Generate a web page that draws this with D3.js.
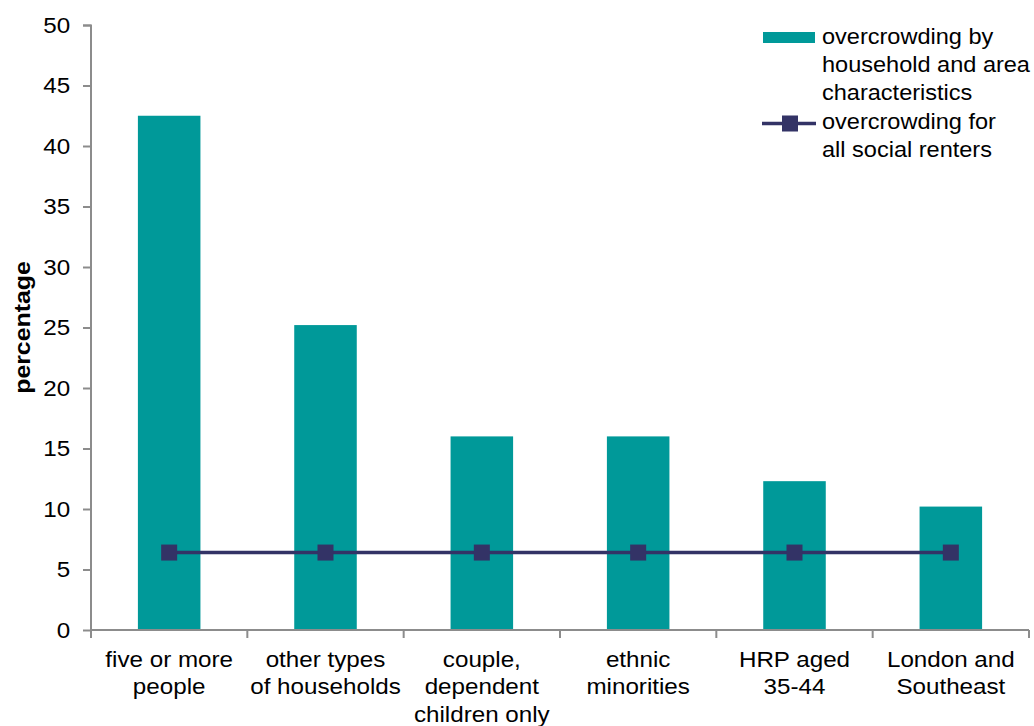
<!DOCTYPE html>
<html>
<head>
<meta charset="utf-8">
<script src="https://cdn.jsdelivr.net/npm/d3@7"></script>
<style>
  html, body { margin: 0; padding: 0; background: #fff; }
  svg { display: block; font-family: "Liberation Sans", Arial, sans-serif; }
</style>
</head>
<body>
<svg id="chart" width="1034" height="726"></svg>
<script>
// Overcrowding rates by household and area characteristics
const categories = [
  ["five or more", "people"],
  ["other types", "of households"],
  ["couple,", "dependent", "children only"],
  ["ethnic", "minorities"],
  ["HRP aged", "35-44"],
  ["London and", "Southeast"]
];
const barValues = [42.5, 25.2, 16.0, 16.0, 12.3, 10.2];
const lineValues = [6.4, 6.4, 6.4, 6.4, 6.4, 6.4];
const yTicks = [0, 5, 10, 15, 20, 25, 30, 35, 40, 45, 50];
const seriesNames = {
  bars: ["overcrowding by", "household and area", "characteristics"],
  line: ["overcrowding for", "all social renters"]
};

const barColor = "#009999";
const lineColor = "#333366";
const axisColor = "#8c8c8c";
const fontSize = 22;
const wide = 1.1;        // horizontal stretch of the label type
const legendWide = 1.07; // slightly narrower so the legend fits the right edge

const svg = d3.select("#chart");
const plot = { left: 91, right: 1029, top: 25, bottom: 630 };

const keys = categories.map((c, i) => i);
const x = d3.scaleBand()
  .domain(keys)
  .range([plot.left, plot.right])
  .paddingInner(0.6)
  .paddingOuter(0.3);
const xCat = d3.scaleBand().domain(keys).range([plot.left, plot.right]).padding(0);
const y = d3.scaleLinear().domain([0, 50]).range([plot.bottom, plot.top]);

// Bars
svg.append("g").selectAll("rect")
  .data(barValues)
  .join("rect")
  .attr("x", (d, i) => x(i))
  .attr("width", x.bandwidth())
  .attr("y", d => y(d))
  .attr("height", d => y(0) - y(d))
  .attr("fill", barColor);

// Y axis
const yAxis = d3.axisLeft(y).tickValues(yTicks).tickSize(8).tickPadding(11);
const gy = svg.append("g").attr("transform", `translate(${plot.left},0)`).call(yAxis);
gy.select(".domain").attr("stroke", axisColor).attr("stroke-width", 2)
  .attr("d", `M-8,${plot.top + 0.5}H0V${plot.bottom}`);
gy.selectAll(".tick line").attr("stroke", axisColor).attr("stroke-width", 2);
gy.selectAll(".tick text").attr("fill", "#000").attr("font-size", fontSize)
  .attr("font-family", "Liberation Sans, Arial, sans-serif")
  .attr("transform", `scale(${wide},1)`);

// X axis with tick marks on category boundaries
const gx = svg.append("g").attr("transform", `translate(0,${plot.bottom})`);
gx.append("line")
  .attr("x1", plot.left).attr("x2", plot.right)
  .attr("stroke", axisColor).attr("stroke-width", 2);
const boundaries = keys.map(k => xCat(k)).concat([plot.right]);
gx.selectAll("line.tk").data(boundaries).join("line")
  .attr("class", "tk")
  .attr("x1", d => d).attr("x2", d => d)
  .attr("y1", 0).attr("y2", 8)
  .attr("stroke", axisColor).attr("stroke-width", 2);

// Multi-line text block anchored at (px, py), stretched horizontally
function block(parent, px, py, lines, anchor, lineGap, sx) {
  const t = parent.append("g")
    .attr("transform", `translate(${px},${py}) scale(${sx},1)`)
    .append("text")
    .attr("text-anchor", anchor)
    .attr("font-size", fontSize).attr("fill", "#000");
  lines.forEach((ln, j) => {
    t.append("tspan").attr("x", 0).attr("y", j * lineGap).text(ln);
  });
  return t;
}

// Category labels
const labels = svg.append("g");
categories.forEach((lines, i) => {
  const cx = xCat(i) + xCat.bandwidth() / 2;
  block(labels, cx, 667, lines, "middle", 27.5, wide);
});

// Line series with square markers
const lineGen = d3.line()
  .x((d, i) => x(i) + x.bandwidth() / 2)
  .y(d => y(d));
svg.append("path")
  .datum(lineValues)
  .attr("d", lineGen)
  .attr("fill", "none")
  .attr("stroke", lineColor)
  .attr("stroke-width", 3.5);
const ms = 16;
svg.append("g").selectAll("rect")
  .data(lineValues)
  .join("rect")
  .attr("x", (d, i) => x(i) + x.bandwidth() / 2 - ms / 2)
  .attr("y", d => y(d) - ms / 2)
  .attr("width", ms).attr("height", ms)
  .attr("fill", lineColor);

// Y axis title
svg.append("g")
  .attr("transform", `translate(30,${(plot.top + plot.bottom) / 2}) rotate(-90) scale(1.13,1)`)
  .append("text")
  .attr("text-anchor", "middle")
  .attr("font-size", fontSize).attr("font-weight", "bold")
  .text("percentage");

// Legend
const legend = svg.append("g");
legend.append("rect")
  .attr("x", 763).attr("y", 32).attr("width", 52).attr("height", 11)
  .attr("fill", barColor);
block(legend, 822, 44, seriesNames.bars, "start", 28, legendWide);
legend.append("line")
  .attr("x1", 762).attr("x2", 816).attr("y1", 123.5).attr("y2", 123.5)
  .attr("stroke", lineColor).attr("stroke-width", 3.5);
legend.append("rect")
  .attr("x", 782).attr("y", 115.5).attr("width", 16).attr("height", 16)
  .attr("fill", lineColor);
block(legend, 822, 129, seriesNames.line, "start", 28, legendWide);
</script>
</body>
</html>
